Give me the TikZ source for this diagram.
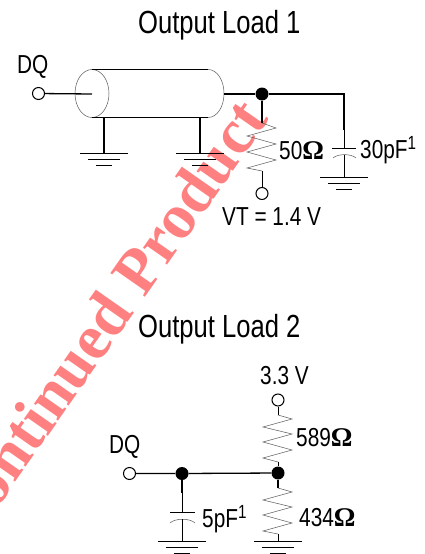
\documentclass[tikz,border=0pt]{standalone}
\usepackage{fontspec}
\setmainfont[FakeStretch=0.8]{Liberation Sans}
\newfontfamily\stampfont{Liberation Serif}
\newfontfamily\ohmfont{Liberation Serif}
\newcommand{\ohm}{{\ohmfont\bfseries\fontsize{27}{27}\selectfont Ω}}
\newcommand{\supone}{\raisebox{9pt}{\fontsize{19}{19}\selectfont 1}}

\begin{document}
\begin{tikzpicture}[x=1pt,y=-1pt,
  wire/.style={line width=1.3pt},
  thinwire/.style={line width=0.8pt},
  zigzag/.style={line width=0.5pt,black!65},
  shell/.style={line width=0.5pt,black!65},
  gnd/.style={line width=0.9pt},
  term/.style={circle,draw,line width=1pt,fill=white,minimum size=12pt,inner sep=0pt},
  dot/.style={circle,fill=black,minimum size=13pt,inner sep=0pt},
  title/.style={inner sep=0pt,anchor=base west,font=\fontsize{32}{32}\selectfont},
  lbl/.style={inner sep=0pt,anchor=base west,font=\fontsize{26}{26}\selectfont}]
\useasboundingbox (0,0) rectangle (425,554);
\fill[white] (0,0) rectangle (425,554);

% stamp
\node[inner sep=0pt,anchor=base east,rotate=55,text=red!50!white,font=\stampfont\bfseries\fontsize{64}{64}\selectfont] (stamp) at (270,119) {Discontinued Product};

% load 1
\node[title] (titleA) at (138,33) {Output Load 1};
\node[lbl] (dqA) at (17,73) {DQ};
\node[term] (inA) at (38.5,93.5) {};
\node[dot] (dotA) at (262,94) {};
\node[term] (vtA) at (262,193.5) {};
\coordinate (coreA) at (92,94);
\coordinate (endA) at (224,94);
\coordinate (cornerA) at (344,94);

\draw[shell] (92,93.5) ellipse (17 and 24);
\draw[shell] (208,69.5) .. controls (217,69.5) and (224,80) .. (224,93.5) .. controls (224,107) and (217,117.5) .. (208,117.5);
\draw[thinwire] (92,69.5) -- (208,69.5);
\draw[thinwire] (92,117.5) -- (208,117.5);
\draw[wire] (inA) -- (coreA);
\draw[wire] (endA) -- (dotA) -- (cornerA) -- (344,130);
\draw[thinwire] (344,130) -- (344,148);

% shield grounds
\coordinate (gndA) at (104,153.5);
\coordinate (gndB) at (200,153.5);
\draw[wire] (104,117.5) -- (gndA);
\draw[wire] (200,117.5) -- (gndB);
\draw[gnd] (80,153.5) -- (128,153.5);
\draw[gnd] (88,159.5) -- (120,159.5);
\draw[gnd] (96,165.5) -- (112,165.5);
\draw[gnd] (176,153.5) -- (224,153.5);
\draw[gnd] (184,159.5) -- (216,159.5);
\draw[gnd] (192,165.5) -- (208,165.5);

% 50 ohm
\coordinate (rAtop) at (262,123);
\coordinate (rAbot) at (262,171);
\draw[wire] (dotA) -- (rAtop);
\draw[zigzag] (rAtop) -- (276,128) -- (247,136) -- (276,144) -- (247,152) -- (276,160) -- (247,168) -- (rAbot);
\draw[thinwire] (rAbot) -- (vtA);
\node[lbl] (ohmA) at (279,159) {50\ohm};
\node[lbl] (vtlabel) at (222,225) {VT = 1.4 V};

% 30 pF
\draw[gnd] (332,148) -- (356,148);
\draw[shell] (333,158) .. controls (338,153.5) and (351,153.5) .. (356,158);
\draw[thinwire] (344,155) -- (344,177.5);
\draw[gnd] (320,177.5) -- (368,177.5);
\draw[gnd] (328,183.5) -- (360,183.5);
\draw[gnd] (336,189.5) -- (352,189.5);
\node[lbl] (capA) at (360,158) {30pF\supone};

% load 2
\node[title] (titleB) at (138,337) {Output Load 2};
\node[lbl] (vdd) at (260,384) {3.3 V};
\node[lbl] (dqB) at (109,453) {DQ};
\node[term] (inB) at (129.5,473.5) {};
\node[term] (topB) at (278,400) {};
\node[dot] (dotB) at (182,473.5) {};
\node[dot] (dotC) at (278,473) {};
\draw[wire] (inB) -- (dotB) -- (dotC);

% 589 ohm
\coordinate (rBtop) at (278,415);
\coordinate (rBbot) at (278,462);
\draw[thinwire] (topB) -- (rBtop);
\draw[zigzag] (rBtop) -- (292,419) -- (263,427) -- (292,434) -- (263,442) -- (292,450) -- (263,458) -- (rBbot);
\draw[thinwire] (rBbot) -- (dotC);
\node[lbl] (ohmB) at (296,446) {589\ohm};

% 434 ohm
\coordinate (rCtop) at (278,488);
\coordinate (rCbot) at (278,534);
\coordinate (gndD) at (278,541);
\draw[wire] (dotC) -- (rCtop);
\draw[zigzag] (rCtop) -- (292,492) -- (263,500) -- (292,507) -- (263,515) -- (292,523) -- (263,531) -- (rCbot);
\draw[thinwire] (rCbot) -- (gndD);
\draw[gnd] (254,541) -- (302,541);
\draw[gnd] (262,547.5) -- (294,547.5);
\draw[gnd] (270,553) -- (286,553);
\node[lbl] (ohmC) at (299,526) {434\ohm};

% 5 pF
\coordinate (plateB) at (182,512);
\coordinate (gndC) at (182,541);
\draw[wire] (dotB) -- (182,493);
\draw[thinwire] (182,493) -- (plateB);
\draw[gnd] (170,512) -- (195,512);
\draw[shell] (170,523) .. controls (175,518) and (190,518) .. (195,523);
\draw[thinwire] (182,519) -- (gndC);
\draw[gnd] (158,541) -- (206,541);
\draw[gnd] (166,547.5) -- (198,547.5);
\draw[gnd] (174,553) -- (190,553);
\node[lbl] (capB) at (202,527) {5pF\supone};
\end{tikzpicture}
\end{document}
